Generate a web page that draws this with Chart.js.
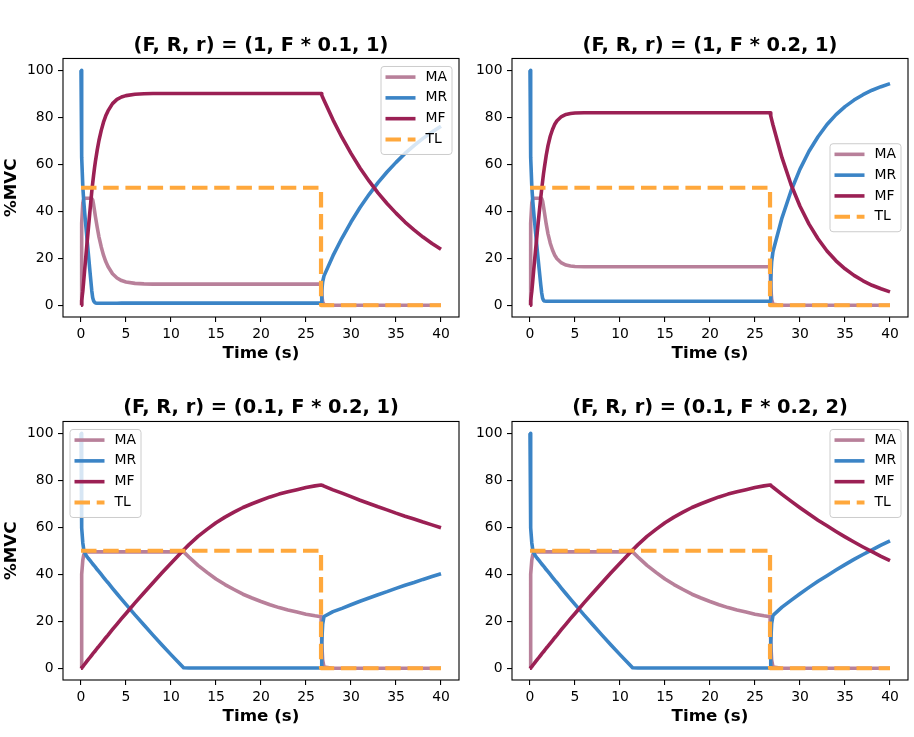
<!DOCTYPE html>
<html>
<head>
<meta charset="utf-8">
<title>MA MR MF TL</title>
<script src="https://cdn.jsdelivr.net/npm/chart.js@4.4.1/dist/chart.umd.min.js"></script>
<style>
  body { margin: 0; background: #ffffff; }
  .panel { position: absolute; }
</style>
</head>
<body>
<div class="panel" style="left:0px;top:0px;width:465px;height:368px"><canvas id="c1"></canvas></div>
<div class="panel" style="left:465px;top:0px;width:449px;height:368px"><canvas id="c2"></canvas></div>
<div class="panel" style="left:0px;top:368px;width:465px;height:363px"><canvas id="c3"></canvas></div>
<div class="panel" style="left:465px;top:368px;width:449px;height:363px"><canvas id="c4"></canvas></div>
<script>
'use strict';

// time axis shared by every panel (s)
const time = [0, 0.05, 0.1, 0.2, 0.3, 0.4, 0.5, 0.6, 0.8, 1,
  1.2, 1.3, 1.4, 1.5, 1.6, 1.8, 2, 2.25, 2.5, 2.75,
  3, 3.5, 4, 4.5, 5, 6, 7, 8, 9, 10,
  11, 11.4, 12, 13, 14, 15, 16, 17, 18, 19,
  20, 21, 22, 23, 24, 25, 26, 26.67, 26.75, 26.85,
  27, 28, 29, 30, 31, 32, 33, 34, 35, 36,
  37, 38, 39, 40];

// panel 1 : (1, F * 0.1, 1)
const maA = [0, 22, 35, 43.5, 45.2, 45.5, 45.5, 45.5, 45.5, 45.5,
  45.4, 44.8, 42.8, 40.3, 37.8, 33.2, 29, 24.8, 21.3, 18.6,
  16.5, 13.4, 11.6, 10.5, 9.9, 9.3, 9.1, 9, 9, 9,
  9, 9, 9, 9, 9, 9, 9, 9, 9, 9,
  9, 9, 9, 9, 9, 9, 9, 9, 4.5, 1.5,
  0.3, 0, 0, 0, 0, 0, 0, 0, 0, 0,
  0, 0, 0, 0];
const mrA = [100, 77.5, 63, 50.6, 44.5, 39.8, 35.4, 31.1, 22.6, 14.2,
  6.1, 3.2, 1.9, 1.3, 1.0, 0.85, 0.85, 0.85, 0.85, 0.85,
  0.85, 0.85, 0.85, 0.9, 0.9, 0.9, 0.9, 0.9, 0.9, 0.9,
  0.9, 0.9, 0.9, 0.9, 0.9, 0.9, 0.9, 0.9, 0.9, 0.9,
  0.9, 0.9, 0.9, 0.9, 0.9, 0.9, 0.9, 0.9, 6.1, 10.0,
  12.5, 21.1, 28.6, 35.4, 41.6, 47.1, 52.2, 56.7, 60.8, 64.6,
  67.9, 71.0, 73.7, 76.2];
const mfA = [0, 0.5, 2, 5.9, 10.3, 14.7, 19.1, 23.4, 31.9, 40.3,
  48.5, 52, 55.3, 58.4, 61.2, 66, 70.2, 74.4, 77.9, 80.6,
  82.7, 85.8, 87.6, 88.6, 89.2, 89.8, 90, 90.1, 90.1, 90.1,
  90.1, 90.1, 90.1, 90.1, 90.1, 90.1, 90.1, 90.1, 90.1, 90.1,
  90.1, 90.1, 90.1, 90.1, 90.1, 90.1, 90.1, 90.1, 89.4, 88.5,
  87.2, 78.9, 71.4, 64.6, 58.4, 52.9, 47.8, 43.3, 39.2, 35.4,
  32.1, 29.0, 26.3, 23.8];

// panel 2 : (1, F * 0.2, 1)
const maB = [0, 22, 35, 43.5, 45.2, 45.5, 45.5, 45.5, 45.5, 45.5,
  45.5, 45.4, 44.3, 42.0, 39.6, 34.6, 30.4, 26.4, 23.5, 21.3,
  19.8, 18.0, 17.1, 16.7, 16.5, 16.4, 16.4, 16.4, 16.4, 16.4,
  16.4, 16.4, 16.4, 16.4, 16.4, 16.4, 16.4, 16.4, 16.4, 16.4,
  16.4, 16.4, 16.4, 16.4, 16.4, 16.4, 16.4, 16.4, 8, 2.5,
  0.4, 0, 0, 0, 0, 0, 0, 0, 0, 0,
  0, 0, 0, 0];
const mrB = [100, 77.5, 63, 50.6, 44.7, 40.1, 35.9, 31.8, 23.7, 16.0,
  8.5, 5.2, 3.0, 2.1, 1.8, 1.7, 1.7, 1.7, 1.7, 1.7,
  1.7, 1.7, 1.7, 1.7, 1.7, 1.7, 1.7, 1.7, 1.7, 1.7,
  1.7, 1.7, 1.7, 1.7, 1.7, 1.7, 1.7, 1.7, 1.7, 1.7,
  1.7, 1.7, 1.7, 1.7, 1.7, 1.7, 1.7, 1.7, 11.4, 18.5,
  22.9, 37.2, 48.6, 57.9, 65.5, 71.7, 76.9, 81.1, 84.5, 87.3,
  89.6, 91.5, 93.0, 94.3];
const mfB = [0, 0.5, 2, 5.9, 10.1, 14.4, 18.6, 22.7, 30.8, 38.5,
  46, 49.4, 52.7, 55.9, 58.6, 63.7, 67.9, 71.9, 74.8, 77.0,
  78.5, 80.3, 81.2, 81.6, 81.8, 81.9, 81.9, 81.9, 81.9, 81.9,
  81.9, 81.9, 81.9, 81.9, 81.9, 81.9, 81.9, 81.9, 81.9, 81.9,
  81.9, 81.9, 81.9, 81.9, 81.9, 81.9, 81.9, 81.9, 80.6, 79.0,
  76.7, 62.8, 51.4, 42.1, 34.5, 28.3, 23.1, 18.9, 15.5, 12.7,
  10.4, 8.5, 7.0, 5.7];

// panel 3 : (0.1, F * 0.2, 1)
const maC = [0, 30, 40, 46, 48.2, 49, 49.3, 49.5, 49.5, 49.5,
  49.5, 49.5, 49.5, 49.5, 49.5, 49.5, 49.5, 49.5, 49.5, 49.5,
  49.5, 49.5, 49.5, 49.5, 49.5, 49.5, 49.5, 49.5, 49.5, 49.5,
  49.5, 49.5, 47.3, 43.8, 40.8, 38.0, 35.6, 33.5, 31.5, 29.9,
  28.4, 27.0, 25.8, 24.8, 23.9, 23.0, 22.3, 21.9, 11, 3.5,
  0.5, 0, 0, 0, 0, 0, 0, 0, 0, 0,
  0, 0, 0, 0];
const mrC = [100, 69.9, 59.7, 53.3, 50.6, 49.3, 48.5, 47.8, 46.8, 45.9,
  44.9, 44.4, 43.9, 43.5, 43.0, 42.0, 41.1, 39.9, 38.7, 37.5,
  36.4, 34.0, 31.7, 29.4, 27.2, 22.7, 18.4, 14.1, 9.9, 5.8,
  1.8, 0.2, 0.1, 0.1, 0.1, 0.1, 0.1, 0.1, 0.1, 0.1,
  0.1, 0.1, 0.1, 0.1, 0.1, 0.1, 0.1, 0.1, 11.0, 18.7,
  22.0, 24.1, 25.5, 27.0, 28.5, 29.9, 31.3, 32.6, 34.0, 35.3,
  36.5, 37.8, 39.0, 40.2];
const mfC = [0, 0.1, 0.3, 0.7, 1.2, 1.7, 2.2, 2.7, 3.7, 4.6,
  5.6, 6.1, 6.6, 7.0, 7.5, 8.5, 9.4, 10.6, 11.8, 13.0,
  14.1, 16.5, 18.8, 21.1, 23.3, 27.8, 32.1, 36.4, 40.6, 44.7,
  48.7, 50.3, 52.6, 56.1, 59.1, 61.9, 64.3, 66.4, 68.4, 70.0,
  71.5, 72.9, 74.1, 75.1, 76.0, 76.9, 77.6, 78.0, 78.0, 77.8,
  77.5, 75.9, 74.5, 73.0, 71.5, 70.1, 68.7, 67.4, 66.0, 64.7,
  63.5, 62.2, 61.0, 59.8];

// panel 4 : (0.1, F * 0.2, 2)
const maD = [0, 30, 40, 46, 48.2, 49, 49.3, 49.5, 49.5, 49.5,
  49.5, 49.5, 49.5, 49.5, 49.5, 49.5, 49.5, 49.5, 49.5, 49.5,
  49.5, 49.5, 49.5, 49.5, 49.5, 49.5, 49.5, 49.5, 49.5, 49.5,
  49.5, 49.5, 47.3, 43.8, 40.8, 38.0, 35.6, 33.5, 31.5, 29.9,
  28.4, 27.0, 25.8, 24.8, 23.9, 23.0, 22.3, 21.9, 11, 3.5,
  0.5, 0, 0, 0, 0, 0, 0, 0, 0, 0,
  0, 0, 0, 0];
const mrD = [100, 69.9, 59.7, 53.3, 50.6, 49.3, 48.5, 47.8, 46.8, 45.9,
  44.9, 44.4, 43.9, 43.5, 43.0, 42.0, 41.1, 39.9, 38.7, 37.5,
  36.4, 34.0, 31.7, 29.4, 27.2, 22.7, 18.4, 14.1, 9.9, 5.8,
  1.8, 0.2, 0.1, 0.1, 0.1, 0.1, 0.1, 0.1, 0.1, 0.1,
  0.1, 0.1, 0.1, 0.1, 0.1, 0.1, 0.1, 0.1, 11.2, 19.1,
  22.5, 26.0, 28.9, 31.7, 34.4, 37.0, 39.4, 41.8, 44.1, 46.3,
  48.4, 50.4, 52.4, 54.2];
const mfD = [0, 0.1, 0.3, 0.7, 1.2, 1.7, 2.2, 2.7, 3.7, 4.6,
  5.6, 6.1, 6.6, 7.0, 7.5, 8.5, 9.4, 10.6, 11.8, 13.0,
  14.1, 16.5, 18.8, 21.1, 23.3, 27.8, 32.1, 36.4, 40.6, 44.7,
  48.7, 50.3, 52.6, 56.1, 59.1, 61.9, 64.3, 66.4, 68.4, 70.0,
  71.5, 72.9, 74.1, 75.1, 76.0, 76.9, 77.6, 78.0, 77.8, 77.4,
  77.0, 74.0, 71.1, 68.3, 65.6, 63.0, 60.6, 58.2, 55.9, 53.7,
  51.6, 49.6, 47.6, 45.8];

// target load, same for all panels
const tlTime = [0, 26.67, 26.67, 40];
const tlLoad = [50, 50, 0, 0];

const xTicks = [0, 5, 10, 15, 20, 25, 30, 35, 40];
const yTicks = [0, 20, 40, 60, 80, 100];

const titles = ['(F, R, r) = (1, F * 0.1, 1)', '(F, R, r) = (1, F * 0.2, 1)',
  '(F, R, r) = (0.1, F * 0.2, 1)', '(F, R, r) = (0.1, F * 0.2, 2)'];

const FONT = 'DejaVu Sans';

function pts(xs, ys) {
  return xs.map((x, i) => ({ x: x, y: ys[i] }));
}

// black box round the plot area (top and right spines too)
const frame = {
  id: 'frame',
  afterDatasetsDraw(chart) {
    const a = chart.chartArea;
    const ctx = chart.ctx;
    ctx.save();
    ctx.strokeStyle = '#000';
    ctx.lineWidth = 1.1;
    ctx.strokeRect(a.left, a.top, a.right - a.left, a.bottom - a.top);
    ctx.restore();
  }
};

// matplotlib style legend box drawn inside the axes
const boxLegend = {
  id: 'boxLegend',
  afterDatasetsDraw(chart, args, opts) {
    const a = chart.chartArea;
    const ctx = chart.ctx;
    const w = 71, h = 88;
    let x, y;
    if (opts.where === 'upper left') {
      x = a.left + 7; y = a.top + 8;
    } else if (opts.where === 'center right') {
      x = a.right - 7 - w; y = (a.top + a.bottom) / 2 - h / 2;
    } else {
      x = a.right - 7 - w; y = a.top + 8;
    }
    ctx.save();
    ctx.beginPath();
    ctx.roundRect(x, y, w, h, 3);
    ctx.fillStyle = 'rgba(255,255,255,0.8)';
    ctx.fill();
    ctx.strokeStyle = '#cccccc';
    ctx.lineWidth = 1;
    ctx.stroke();
    chart.data.datasets.forEach((ds, i) => {
      const ly = y + 10.6 + i * 20.8;
      ctx.beginPath();
      ctx.setLineDash(ds.borderDash || []);
      ctx.moveTo(x + 4.5, ly);
      ctx.lineTo(x + 34.5, ly);
      ctx.strokeStyle = ds.borderColor;
      ctx.lineWidth = ds.borderWidth;
      ctx.stroke();
      ctx.setLineDash([]);
      ctx.fillStyle = '#000';
      ctx.font = '13.9px "' + FONT + '"';
      ctx.textBaseline = 'middle';
      ctx.textAlign = 'left';
      ctx.fillText(ds.label, x + 44.5, ly);
    });
    ctx.restore();
  }
};

const panels = [
  { id: 'c1', ma: maA, mr: mrA, mf: mfA, title: titles[0], legend: 'upper right', left: true, row: 0 },
  { id: 'c2', ma: maB, mr: mrB, mf: mfB, title: titles[1], legend: 'center right', left: false, row: 0 },
  { id: 'c3', ma: maC, mr: mrC, mf: mfC, title: titles[2], legend: 'upper left', left: true, row: 1 },
  { id: 'c4', ma: maD, mr: mrD, mf: mfD, title: titles[3], legend: 'upper right', left: false, row: 1 }
];

function makeChart(p) {
  const common = { pointRadius: 0, fill: false, tension: 0, borderJoinStyle: 'round', borderCapStyle: 'butt' };
  new Chart(document.getElementById(p.id), {
    type: 'line',
    data: {
      datasets: [
        Object.assign({ label: 'MA', data: pts(time, p.ma), borderColor: '#b8809a', borderWidth: 3.6, order: 4 }, common),
        Object.assign({ label: 'MR', data: pts(time, p.mr), borderColor: '#3b84c6', borderWidth: 3.6, order: 3 }, common),
        Object.assign({ label: 'MF', data: pts(time, p.mf), borderColor: '#9b2054', borderWidth: 3.6, order: 2 }, common),
        Object.assign({ label: 'TL', data: pts(tlTime, tlLoad), borderColor: '#ffa83c', borderWidth: 4.2, borderDash: [15.5, 6.7], order: 1 }, common)
      ]
    },
    options: {
      responsive: true,
      maintainAspectRatio: false,
      animation: false,
      events: [],
      layout: { padding: { left: 0, right: 6, top: 0, bottom: 0 } },
      plugins: {
        legend: { display: false },
        tooltip: { enabled: false },
        title: {
          display: true,
          text: p.title,
          fullSize: false,
          color: '#000',
          font: { family: FONT, size: 19.4, weight: 'bold' },
          padding: p.row === 0 ? { top: 34.4, bottom: 0.8 } : { top: 28.6, bottom: 1.6 }
        },
        boxLegend: { where: p.legend }
      },
      scales: {
        x: {
          type: 'linear',
          min: -2,
          max: 42,
          afterBuildTicks: (s) => { s.ticks = xTicks.map(v => ({ value: v })); },
          afterFit: (s) => { s.height = 51; },
          ticks: { color: '#000', font: { family: FONT, size: 13.9 }, padding: 4, autoSkip: false, maxRotation: 0 },
          grid: { display: true, drawOnChartArea: false, drawTicks: true, tickLength: 5, color: '#000', lineWidth: 1.1 },
          border: { display: false },
          title: { display: true, text: 'Time (s)', color: '#000', font: { family: FONT, size: 16.7, weight: 'bold' }, padding: { top: 0, bottom: 4.1 } }
        },
        y: {
          type: 'linear',
          min: -5,
          max: 105,
          afterBuildTicks: (s) => { s.ticks = yTicks.map(v => ({ value: v })); },
          afterFit: (s) => { s.width = p.left ? 63 : 47; },
          ticks: { color: '#000', font: { family: FONT, size: 13.9 }, padding: 4.5, autoSkip: false },
          grid: { display: true, drawOnChartArea: false, drawTicks: true, tickLength: 5, color: '#000', lineWidth: 1.1 },
          border: { display: false },
          title: { display: p.left, text: '%MVC', color: '#000', font: { family: FONT, size: 16.7, weight: 'bold' }, padding: { top: 2, bottom: 0 } }
        }
      }
    },
    plugins: [frame, boxLegend]
  });
}

panels.forEach(makeChart);
</script>
</body>
</html>
